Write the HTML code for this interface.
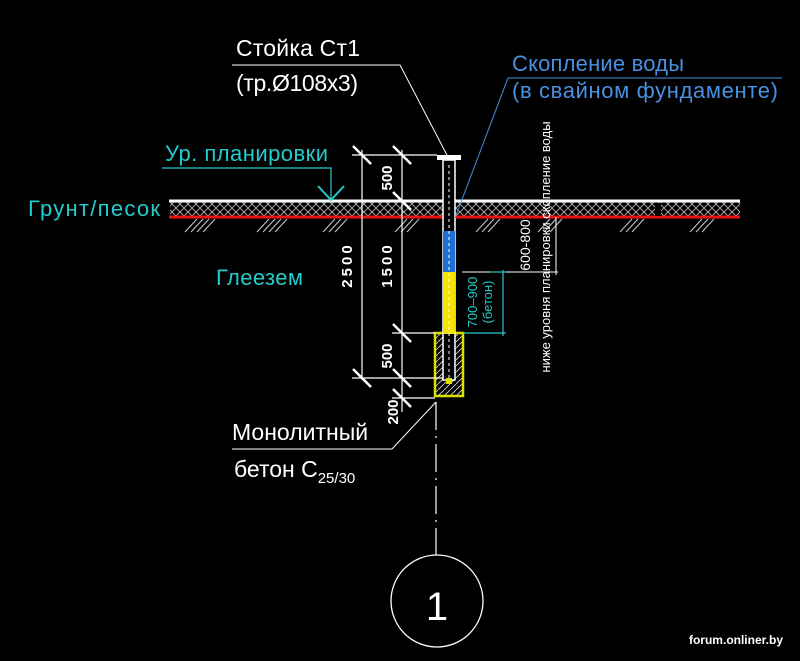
<!DOCTYPE html>
<html><head><meta charset="utf-8"><style>
html,body{margin:0;padding:0;background:#000;width:800px;height:661px;overflow:hidden}
text{font-family:"Liberation Sans Narrow","Liberation Sans","DejaVu Sans Condensed",sans-serif}
</style></head><body>
<svg width="800" height="661" viewBox="0 0 800 661" xmlns="http://www.w3.org/2000/svg">
<defs>
<pattern id="x" width="8" height="8" patternUnits="userSpaceOnUse">
<path d="M0 0L8 8M8 0L0 8" stroke="#bbb" stroke-width="0.8"/>
</pattern>
<pattern id="h" width="6" height="6" patternUnits="userSpaceOnUse">
<path d="M0 6L6 0" stroke="#ddd" stroke-width="0.8"/>
</pattern>
</defs>
<rect width="800" height="661" fill="#000"/>
<rect x="170" y="201" width="570" height="16" fill="url(#x)"/>
<line x1="169" y1="201" x2="740" y2="201" stroke="#fff" stroke-width="3"/>
<line x1="169" y1="217" x2="740" y2="217" stroke="#e11" stroke-width="3"/>
<rect x="655" y="203" width="6" height="13" fill="#000"/>
<g stroke="#ccc" stroke-width="1">
<path d="M185 232L197 219M191 232L203 219M197 232L209 219M203 232L215 219"/>
<path d="M257 232L269 219M263 232L275 219M269 232L281 219M275 232L287 219"/>
<path d="M323 232L335 219M329 232L341 219M335 232L347 219"/>
<path d="M395 232L407 219M401 232L413 219M407 232L419 219"/>
<path d="M476 232L488 219M482 232L494 219M488 232L500 219"/>
<path d="M538 232L550 219M544 232L556 219M550 232L562 219"/>
<path d="M620 232L632 219M626 232L638 219M632 232L644 219"/>
<path d="M690 232L702 219M696 232L708 219M702 232L714 219"/>
</g>
<rect x="435" y="333" width="28" height="63" fill="url(#h)" stroke="#dd0" stroke-width="2.5"/>
<rect x="443" y="160" width="12" height="220" fill="#000" stroke="#fff" stroke-width="1.5"/>
<rect x="443" y="231" width="12" height="41" fill="#1e6fd6"/>
<rect x="443" y="272" width="12" height="62" fill="#f2e400"/>
<line x1="449" y1="165" x2="449" y2="378" stroke="#fff" stroke-width="1" stroke-dasharray="3,3"/>
<rect x="437" y="155" width="24" height="5" fill="#fff"/>
<rect x="446" y="378" width="6" height="6" fill="#dd0"/>
<g stroke="#fff" stroke-width="1.2">
<line x1="362" y1="150" x2="362" y2="380"/>
<line x1="402" y1="150" x2="402" y2="412"/>
<line x1="352" y1="155" x2="437" y2="155"/>
<line x1="392" y1="333" x2="435" y2="333"/>
<line x1="352" y1="378" x2="443" y2="378"/>
<line x1="392" y1="398" x2="435" y2="398"/>
</g>
<g stroke="#fff" stroke-width="2.5">
<line x1="353" y1="146" x2="371" y2="164"/>
<line x1="393" y1="146" x2="411" y2="164"/>
<line x1="393" y1="192" x2="411" y2="210"/>
<line x1="393" y1="324" x2="411" y2="342"/>
<line x1="353" y1="369" x2="371" y2="387"/>
<line x1="393" y1="369" x2="411" y2="387"/>
<line x1="393" y1="389" x2="411" y2="407"/>
</g>
<g fill="#fff" font-size="15" font-weight="bold">
<text transform="translate(392,178) rotate(-90)" text-anchor="middle">500</text>
<text transform="translate(352,265) rotate(-90)" text-anchor="middle" letter-spacing="3">2500</text>
<text transform="translate(392,265) rotate(-90)" text-anchor="middle" letter-spacing="3">1500</text>
<text transform="translate(392,356) rotate(-90)" text-anchor="middle">500</text>
<text transform="translate(398,412) rotate(-90)" text-anchor="middle">200</text>
</g>
<g stroke="#fff" stroke-width="1">
<line x1="462" y1="272" x2="558" y2="272"/>
<line x1="556" y1="217" x2="556" y2="275"/>
</g>
<text transform="translate(530,245) rotate(-90)" text-anchor="middle" fill="#fff" font-size="14">600-800</text>
<g stroke="#2cc" stroke-width="1.2">
<line x1="503" y1="270" x2="503" y2="336"/>
<line x1="463" y1="333" x2="506" y2="333"/>
<line x1="490" y1="272" x2="506" y2="272"/>
</g>
<g fill="#2cc" font-size="13">
<text transform="translate(477,302) rotate(-90)" text-anchor="middle">700–900</text>
<text transform="translate(492,302) rotate(-90)" text-anchor="middle">(бетон)</text>
</g>
<text transform="translate(550,247) rotate(-90)" text-anchor="middle" fill="#fff" font-size="13">ниже уровня планировки скопление воды</text>
<polyline points="232,65 400,65 448,157" fill="none" stroke="#fff" stroke-width="1"/>
<polyline points="782,78 508,78 455,218" fill="none" stroke="#4a90e0" stroke-width="1"/>
<polyline points="162,168 331,168 331,200" fill="none" stroke="#2cc" stroke-width="1.2"/>
<polyline points="318,186 331,200 344,186" fill="none" stroke="#2cc" stroke-width="2"/>
<polyline points="232,449 392,449 436,402" fill="none" stroke="#fff" stroke-width="1"/>
<line x1="436" y1="402" x2="436" y2="555" stroke="#fff" stroke-width="1.2" stroke-dasharray="28,6,2,6"/>
<circle cx="437" cy="601" r="46" fill="none" stroke="#fff" stroke-width="1.3"/>
<text x="437" y="620" text-anchor="middle" fill="#fff" font-size="40">1</text>
<g fill="#fff" font-size="23">
<text x="236" y="56" textLength="124">Стойка Ст1</text>
<text x="236" y="91" textLength="122">(тр.Ø108х3)</text>
<text x="232" y="440">Монолитный</text>
<text x="234" y="477">бетон С<tspan font-size="15" dy="6">25/30</tspan></text>
</g>
<g fill="#4a90e0" font-size="22">
<text x="512" y="71" textLength="172">Скопление воды</text>
<text x="512" y="98" textLength="266">(в свайном фундаменте)</text>
</g>
<g fill="#2cc" font-size="22">
<text x="165" y="161" textLength="163">Ур. планировки</text>
<text x="28" y="216" textLength="132">Грунт/песок</text>
<text x="216" y="285" textLength="87">Глеезем</text>
</g>
<text x="783" y="644" text-anchor="end" fill="#fff" font-size="12" font-weight="bold">forum.onliner.by</text>
</svg>
</body></html>
